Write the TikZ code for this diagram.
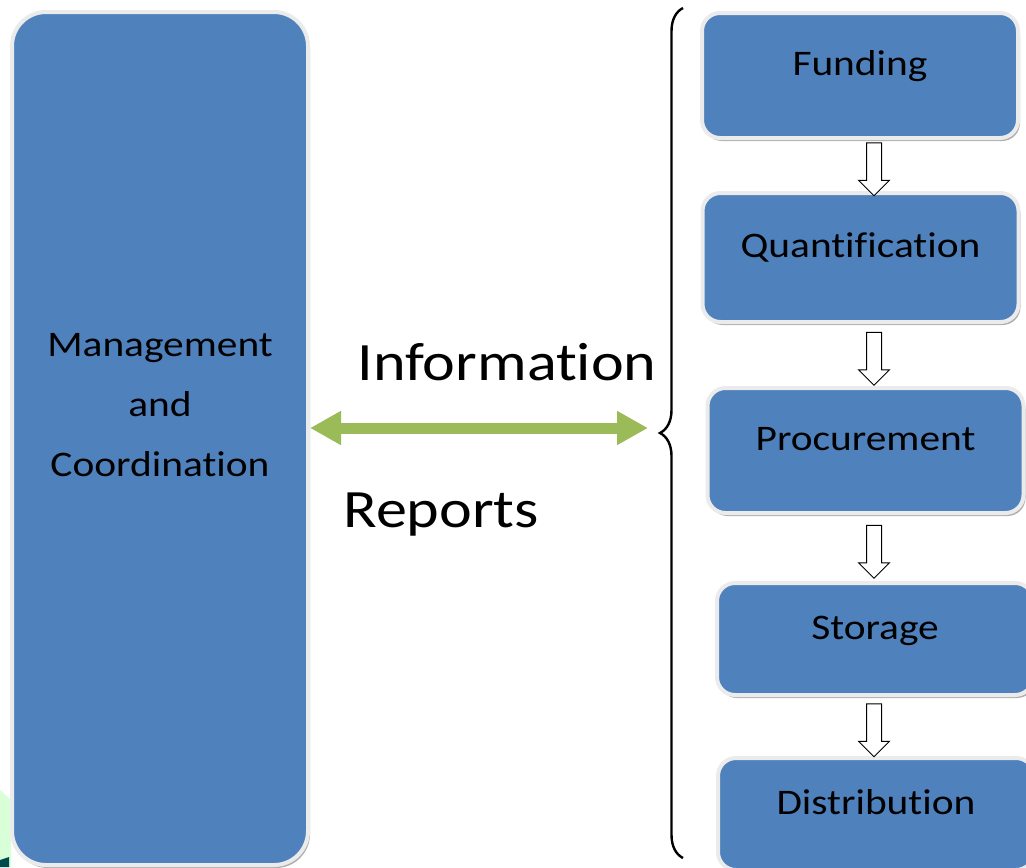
\documentclass[tikz,border=0pt]{standalone}
\usepackage{fontspec}
\setmainfont{Carlito}[FakeStretch=1.15, Ligatures=NoCommon]
\usetikzlibrary{shapes.arrows,shadows,calc,arrows.meta,decorations.pathreplacing}
\definecolor{boxblue}{HTML}{4F81BD}
\definecolor{arrowgreen}{HTML}{9BBB59}
\begin{document}
\begin{tikzpicture}[x=0.5pt, y=-0.5pt,
    main/.style = {draw=white!92!black, line width=2pt, fill=boxblue, rounded corners=9pt, inner sep=0pt,
        drop shadow={shadow xshift=1pt, shadow yshift=-1.5pt, fill=black!45, opacity=0.7},
        font=\fontsize{18}{30}\selectfont},
    stage/.style = {main, minimum width=158pt, text height=#1, text depth=#1},
    flowarrow/.style = {single arrow, draw, fill=white, line width=0.5pt, shape border rotate=270,
        minimum height=26.5pt, single arrow head extend=4pt, inner sep=3.5pt}]
    \useasboundingbox (0,0) rectangle (1026,867);
    \fill[green!15!white] (0,790) -- (11,800) -- (11,867) -- (0,867) -- cycle;
    \fill[teal!60!black] (0,860) -- (9,857) -- (9,867) -- (0,867) -- cycle;

    \node[main, minimum width=148pt, minimum height=426.5pt, rounded corners=17pt] (mgmt) at (160,438.5) {};
    \node[align=center, inner sep=0pt, font=\fontsize{18}{30}\selectfont] (mgmttext) at (160,405.5) {Management\\and\\Coordination};

    \node[stage=31.25pt] (fund) at (860,75.5) {Funding};
    \node[stage=32.25pt] (quant) at (860.5,257.5) {Quantification};
    \node[stage=31.25pt] (proc) at (865.5,450.5) {Procurement};
    \node[stage=28pt] (stor) at (875,639) {Storage};
    \node[stage=28pt] (dist) at (876,814) {Distribution};

    \coordinate (col) at (874,0);
    \foreach \a/\b/\n in {fund/quant/1, quant/proc/2, proc/stor/3, stor/dist/4} {
        \coordinate (m\n) at ($(\a.south)!.5!(\b.north)$);
        \node[flowarrow] (arr\n) at (col |- m\n) {};
    }

    \coordinate (bt) at (683,8);
    \coordinate (bb) at (683,858);
    \draw[decorate, decoration={brace, amplitude=11.5pt}, line width=1.2pt] (bb) -- (bt);

    \coordinate (tip) at (648,428);
    \draw[arrowgreen, line width=5.5pt, {Triangle[length=15.5pt,width=16pt]}-{Triangle[length=15.5pt,width=16pt]}]
        ([yshift=5.25pt]mgmt.east) -- (tip);

    \node[anchor=base west, inner sep=0pt, font=\fontsize{27}{32}\selectfont] (info) at (357,380) {Information};
    \node[anchor=base west, inner sep=0pt, font=\fontsize{27}{32}\selectfont] (reports) at (343,527) {Reports};
\end{tikzpicture}
\end{document}
